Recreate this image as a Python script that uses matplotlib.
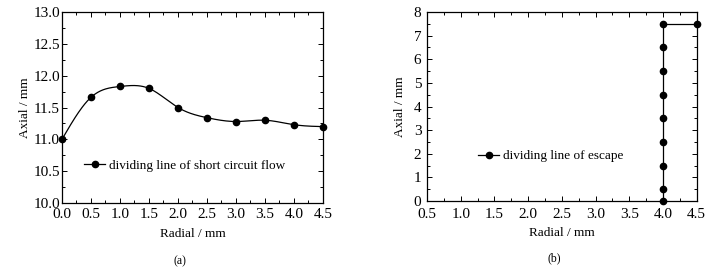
import numpy as np
import matplotlib
matplotlib.use("Agg")
import matplotlib.pyplot as plt
from matplotlib.ticker import MultipleLocator, FormatStrFormatter

# Data (a)
radial_a = [0.0, 0.5, 1.0, 1.5, 2.0, 2.5, 3.0, 3.5, 4.0, 4.5]
axial_a = [11.00, 11.66, 11.83, 11.80, 11.50, 11.34, 11.28, 11.30, 11.23, 11.20]
label_a = "dividing line of short circuit flow"

# Data (b)
radial_b = [4.0, 4.0, 4.0, 4.0, 4.0, 4.0, 4.0, 4.0, 4.0, 4.5]
axial_b = [0.0, 0.5, 1.5, 2.5, 3.5, 4.5, 5.5, 6.5, 7.5, 7.5]
label_b = "dividing line of escape"

plt.rcParams['font.family'] = ['Liberation Serif', 'DejaVu Serif']
plt.rcParams['font.size'] = 9.5


def natural_spline(x, y, n=300):
    x = np.asarray(x, float); y = np.asarray(y, float)
    m = len(x); h = np.diff(x)
    A = np.zeros((m, m)); r = np.zeros(m)
    A[0, 0] = 1; A[-1, -1] = 1
    for i in range(1, m - 1):
        A[i, i - 1] = h[i - 1]; A[i, i] = 2 * (h[i - 1] + h[i]); A[i, i + 1] = h[i]
        r[i] = 3 * ((y[i + 1] - y[i]) / h[i] - (y[i] - y[i - 1]) / h[i - 1])
    c = np.linalg.solve(A, r)
    xs = np.linspace(x[0], x[-1], n); ys = np.empty_like(xs)
    for k, xv in enumerate(xs):
        i = min(np.searchsorted(x, xv, side='right') - 1, m - 2)
        b = (y[i + 1] - y[i]) / h[i] - h[i] * (2 * c[i] + c[i + 1]) / 3
        d = (c[i + 1] - c[i]) / (3 * h[i])
        t = xv - x[i]
        ys[k] = y[i] + b * t + c[i] * t ** 2 + d * t ** 3
    return xs, ys


fig = plt.figure(figsize=(7.25, 2.67), dpi=100)
ax1 = fig.add_axes([0.0855, 0.2397, 0.36, 0.7153])
ax2 = fig.add_axes([0.589, 0.247, 0.372, 0.708])

xs, ys = natural_spline(radial_a, axial_a)
ax1.plot(xs, ys, color='black', lw=0.9)
ax1.plot(radial_a, axial_a, 'o', color='black', ms=4.5, clip_on=False, zorder=3)
h1, = ax1.plot([], [], '-o', color='black', lw=0.9, ms=4.5)
ax1.set_xlim(0, 4.5); ax1.set_ylim(10, 13)
ax1.xaxis.set_major_locator(MultipleLocator(0.5))
ax1.xaxis.set_minor_locator(MultipleLocator(0.25))
ax1.yaxis.set_major_locator(MultipleLocator(0.5))
ax1.yaxis.set_minor_locator(MultipleLocator(0.25))
ax1.xaxis.set_major_formatter(FormatStrFormatter('%.1f'))
ax1.yaxis.set_major_formatter(FormatStrFormatter('%.1f'))
ax1.legend([h1], [label_a], loc='center left', bbox_to_anchor=(0.085, 0.195),
           frameon=False, borderpad=0, borderaxespad=0, handlelength=1.6,
           handletextpad=0.3, fontsize=9.5)
ax1.set_xlabel('Radial / mm', labelpad=5)
ax1.set_ylabel('Axial / mm', labelpad=2)

ax2.plot(radial_b, axial_b, '-o', color='black', lw=0.9, ms=4.5, clip_on=False, zorder=3)
ax2.set_xlim(0.5, 4.5); ax2.set_ylim(0, 8)
ax2.xaxis.set_major_locator(MultipleLocator(0.5))
ax2.xaxis.set_minor_locator(MultipleLocator(0.25))
ax2.yaxis.set_major_locator(MultipleLocator(1))
ax2.yaxis.set_minor_locator(MultipleLocator(0.5))
ax2.xaxis.set_major_formatter(FormatStrFormatter('%.1f'))
ax2.legend(loc='center left', labels=[label_b], bbox_to_anchor=(0.19, 0.238),
           frameon=False, borderpad=0, borderaxespad=0, handlelength=1.6,
           handletextpad=0.3, fontsize=9.5)
ax2.set_xlabel('Radial / mm', labelpad=4)
ax2.set_ylabel('Axial / mm', labelpad=6)

for ax, xpad, ypad in ((ax1, 3.5, 1.5), (ax2, 5, 4)):
    ax.tick_params(which='both', direction='in', top=True, right=True,
                   labelsize=11, width=0.7)
    ax.tick_params(axis='x', pad=xpad)
    ax.tick_params(axis='y', pad=ypad)
    ax.tick_params(which='major', length=3.5)
    ax.tick_params(which='minor', length=2)
    for s in ax.spines.values():
        s.set_linewidth(0.9)

fig.text(180 / 725, 1 - 261 / 267, '(a)', ha='center', va='center', fontsize=8.5)
fig.text(554 / 725, 1 - 258 / 267, '(b)', ha='center', va='center', fontsize=8.5)

fig.savefig('out.png', dpi=100)
